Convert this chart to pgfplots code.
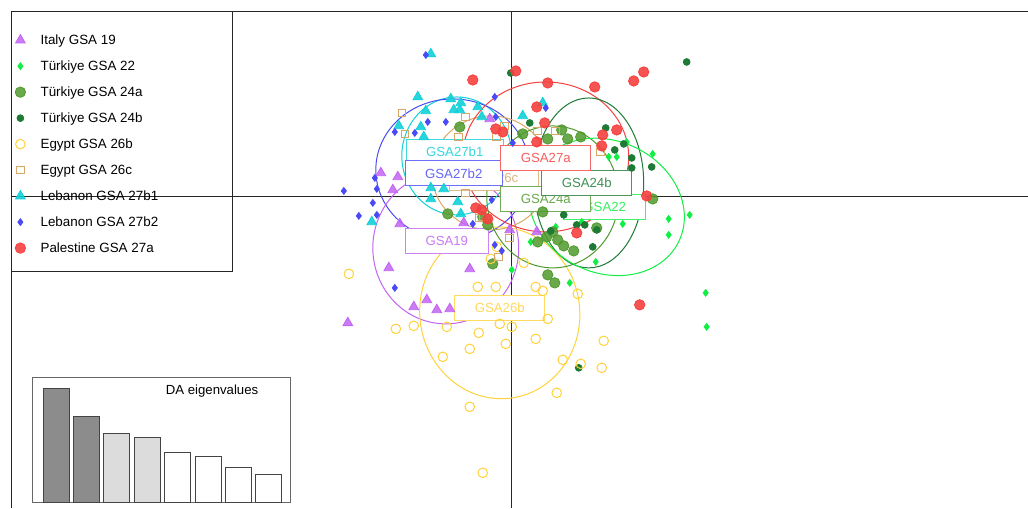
\documentclass[border=0pt]{standalone}
\usepackage{fontspec}
\setmainfont{Liberation Sans}
\usepackage{pgfplots}
\pgfplotsset{compat=1.18}
\definecolor{cpur}{HTML}{C264F2}
\definecolor{cbgr}{HTML}{11EE44}
\definecolor{coli}{HTML}{50992D}
\definecolor{cdgr}{HTML}{1E7B35}
\definecolor{cgol}{HTML}{FFD23C}
\definecolor{ctan}{HTML}{D9A866}
\definecolor{ccya}{HTML}{12D0D8}
\definecolor{cblu}{HTML}{4A4AF5}
\definecolor{cred}{HTML}{F5413F}
\definecolor{bardk}{HTML}{8C8C8C}
\definecolor{barlt}{HTML}{DCDCDC}
\definecolor{barln}{HTML}{444444}
\pgfplotsset{
  pts/.style={only marks, legend image code/.code={\pgfsetbaseline{0pt}\pgfpathrectangle{\pgfpoint{0pt}{-4.5pt}}{\pgfpoint{12pt}{13pt}}\pgfusepath{use as bounding box}\draw[##1] plot coordinates {(4.2pt,2.4pt)};}},
}
\newcommand{\lab}[4]{\node[draw=#1!80, fill=white, text=#1!85, line width=0.5pt, inner xsep=10pt, inner ysep=0pt, minimum height=12.5pt, font=\fontsize{6.6}{8}\selectfont] at (axis cs:#2,#3) {#4};}
\newcommand{\myell}[6]{\draw[#1, line width=0.5pt, rotate around={#6:(axis cs:#2,#3)}] (axis cs:#2,#3) ellipse [x radius=#4pt, y radius=#5pt];}
\begin{document}
\begin{tikzpicture}
\begin{axis}[x=0.5pt, y=0.5pt, y dir=reverse, xmin=0, xmax=1028, ymin=0, ymax=508,
  hide axis, clip=false,
  legend cell align=left,
  legend style={at={(0.011673,0.944882)}, anchor=north west, draw=none, fill=none,
    inner sep=0pt, outer sep=0pt, row sep=0pt, column sep=2.3pt,
    font=\fontsize{6.7}{8}\selectfont,
    nodes={inner sep=0pt, outer sep=0pt, text height=8.5pt, text depth=4.5pt, anchor=base west}},
  mark options={solid}]
\path (axis cs:0,0) rectangle (axis cs:1028,508);
\draw[line width=0.5pt, black!85] (axis cs:12,508) -- (axis cs:12,12) -- (axis cs:1028,12);
\draw[line width=0.5pt, black!85] (axis cs:512,12) -- (axis cs:512,508);
\draw[line width=0.5pt, black!85] (axis cs:12,197) -- (axis cs:1028,197);
\draw[line width=0.5pt, black!85] (axis cs:12,12) rectangle (axis cs:233,272);

\addplot[pts, mark=triangle*, mark size=2.8pt, color=cpur, mark options={fill opacity=0.85}] coordinates {
(490,119) (381,173) (398,177) (393,190) (400,224) (464,223) (510,230) (537,232)
(389,268) (470,269) (414,307) (427,300) (437,310) (450,309) (348,323)};
\addlegendentry{Italy GSA 19}
\addplot[pts, mark=diamond*, mark size=1.7pt, color=cbgr] coordinates {
(627,142) (653,154) (609,157) (617,157) (623,224) (669,219) (669,235) (690,215)
(596,262) (570,283) (512,270) (556,227) (531,242) (706,293) (707,327) (582,222)};
\addlegendentry{Türkiye GSA 22}
\addplot[pts, mark=*, mark size=2.6pt, color=coli, mark options={fill opacity=0.85}] coordinates {
(460,127) (523,134) (548,139) (562,130) (568,139) (581,137) (448,214) (493,264)
(483,217) (488,225) (547,237) (553,232) (558,240) (564,246) (574,251) (548,275)
(555,283) (653,199) (597,228) (538,242) (543,212)};
\addlegendentry{Türkiye GSA 24a}
\addplot[pts, mark=*, mark size=1.7pt, color=cdgr] coordinates {
(511,73) (687,62) (530,123) (606,128) (615,150) (624,144) (632,158) (632,168)
(652,167) (593,247) (551,231) (577,225) (585,225) (597,230) (564,215) (579,368)};
\addlegendentry{Türkiye GSA 24b}
\addplot[pts, mark=o, mark size=2.4pt, color=cgol, line width=0.5pt] coordinates {
(349,274) (396,329) (414,326) (447,327) (478,287) (496,287) (479,333) (470,349)
(443,357) (500,324) (512,327) (506,344) (536,287) (543,291) (548,319) (536,339)
(563,360) (581,364) (602,368) (604,341) (557,393) (470,407) (483,473) (578,294)
(491,259) (497,247) (524,263)};
\addlegendentry{Egypt GSA 26b}
\addplot[pts, mark=square, mark size=1.9pt, color=ctan, line width=0.5pt] coordinates {
(402,113) (405,134) (466,117) (459,137) (505,126) (497,137) (538,131) (556,131)
(601,152) (466,193) (480,218) (510,238) (499,257) (484,217)};
\addlegendentry{Egypt GSA 26c}
\addplot[pts, mark=triangle*, mark size=2.8pt, color=ccya, mark options={fill opacity=0.9}] coordinates {
(431,54) (418,97) (426,111) (399,126) (421,127) (424,137) (451,99) (461,103)
(454,110) (460,110) (478,107) (482,117) (523,116) (543,103) (431,188) (444,189)
(431,199) (458,202) (461,214) (372,222)};
\addlegendentry{Lebanon GSA 27b1}
\addplot[pts, mark=diamond*, mark size=1.7pt, color=cblu] coordinates {
(426,55) (344,191) (359,216) (373,203) (377,215) (375,178) (395,288) (428,122)
(446,122) (415,133) (395,132) (495,97) (496,117) (546,108) (502,251) (495,245)
(473,224) (492,200) (377,189) (513,143)};
\addlegendentry{Lebanon GSA 27b2}
\addplot[pts, mark=*, mark size=2.6pt, color=cred, mark options={fill opacity=0.9}] coordinates {
(516,71) (473,80) (548,83) (595,87) (634,81) (644,72) (537,107) (545,123)
(537,142) (496,129) (503,132) (603,135) (602,146) (617,130) (647,196) (476,208)
(482,210) (488,219) (577,233) (640,305)};
\addlegendentry{Palestine GSA 27a}

\myell{ccya}{457}{156}{27.5}{29.5}{0}
\myell{cblu}{453}{170}{38.5}{35.5}{0}
\myell{cpur}{446}{248}{36.5}{38}{0}
\myell{cgol}{500}{313}{40}{43}{8}
\myell{ctan}{491}{173}{29.5}{28.5}{0}
\myell{cred}{546}{157}{41.5}{37.5}{0}
\myell{coli}{553}{197}{33}{35.5}{0}
\myell{cdgr}{589}{183}{27.5}{42.5}{0}
\myell{cbgr}{607}{207}{40}{33}{-25}

\lab{cpur}{447}{241}{GSA19}
\lab{cgol}{500}{308}{GSA26b}
\lab{cbgr}{605}{207}{GSA22}
\lab{ctan}{494}{178}{GSA26c}
\lab{coli}{546}{199}{GSA24a}
\lab{cdgr}{587}{183}{GSA24b}
\lab{ccya}{455}{152}{GSA27b1}
\lab{cblu}{454}{173.5}{GSA27b2}
\lab{cred}{546}{158}{GSA27a}
\end{axis}

\begin{axis}[at={(16.5pt,2.5pt)}, anchor=south west, scale only axis,
  width=129pt, height=62.5pt, xmin=0.243, xmax=8.72, ymin=0, ymax=125,
  ticks=none, axis line style={black!60, line width=0.5pt}, ybar, bar width=13pt]
\addplot[fill=bardk, draw=barln, line width=0.5pt, bar shift=0pt] coordinates {(1,114) (2,86)};
\addplot[fill=barlt, draw=barln, line width=0.5pt, bar shift=0pt] coordinates {(3,69) (4,65)};
\addplot[fill=white, draw=barln, line width=0.5pt, bar shift=0pt] coordinates {(5,50) (6,46) (7,35) (8,28)};
\node[font=\fontsize{6.6}{8}\selectfont] at (axis cs:6.13,112) {DA eigenvalues};
\end{axis}
\end{tikzpicture}
\end{document}
